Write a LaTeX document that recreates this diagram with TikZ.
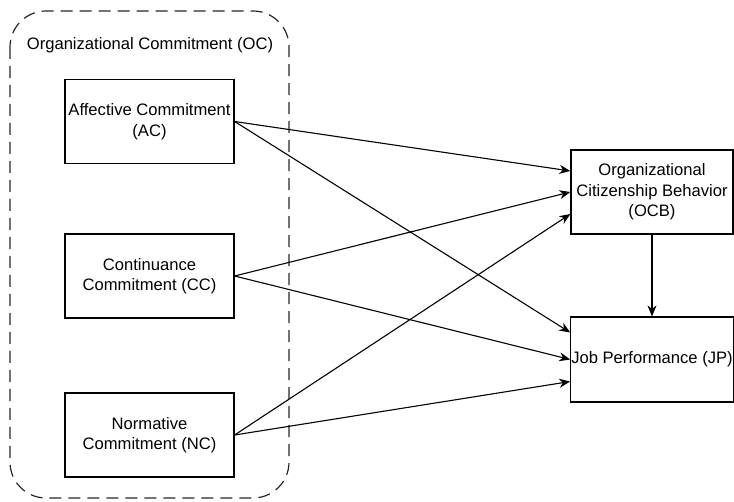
\documentclass[tikz,border=0pt]{standalone}
\usepackage{fontspec}
\setmainfont{Liberation Sans}
\usepackage{tikz}
\usetikzlibrary{arrows.meta}

\begin{document}
\begin{tikzpicture}[x=1pt,y=-1pt,
    box/.style={draw=black,line width=1.2pt,minimum width=169pt,minimum height=84pt,inner sep=0.5pt,align=center,font=\fontsize{16.6}{20.5}\selectfont},
    arr/.style={line width=1.1pt,-{Stealth[length=11pt,width=9pt]}}]
         \useasboundingbox (0,0) rectangle (734,502);
         % dashed group of the three commitments
         \draw[line width=1.2pt,dash pattern=on 12pt off 7pt,rounded corners=36pt,black!85] (10,11) rectangle (289,498);
         \node[font=\fontsize{16.6}{20.5}\selectfont] (oclabel) at (150,45) {Organizational Commitment (OC)};
         \node[box] (ac) at (149.5,121.5) {Affective Commitment\\(AC)};
         \node[box] (cc) at (149.5,276) {Continuance\\Commitment (CC)};
         \node[box] (nc) at (149.5,435) {Normative\\Commitment (NC)};
         \node[box,minimum width=162pt] (ocb) at (652,192) {Organizational\\Citizenship Behavior\\(OCB)};
         \node[box,minimum width=162pt,minimum height=85pt] (jp) at (652,359.5) {Job Performance (JP)};
         \foreach \src/\toocb/\tojp in {ac/21/27, cc/0/0, nc/-22/-22} {
            \draw[arr] (\src.east) -- ([yshift=\toocb pt]ocb.west);
            \draw[arr] (\src.east) -- ([yshift=\tojp pt]jp.west);
         }
         \draw[arr] (ocb.south) -- (jp.north);
      \end{tikzpicture}
\end{document}
